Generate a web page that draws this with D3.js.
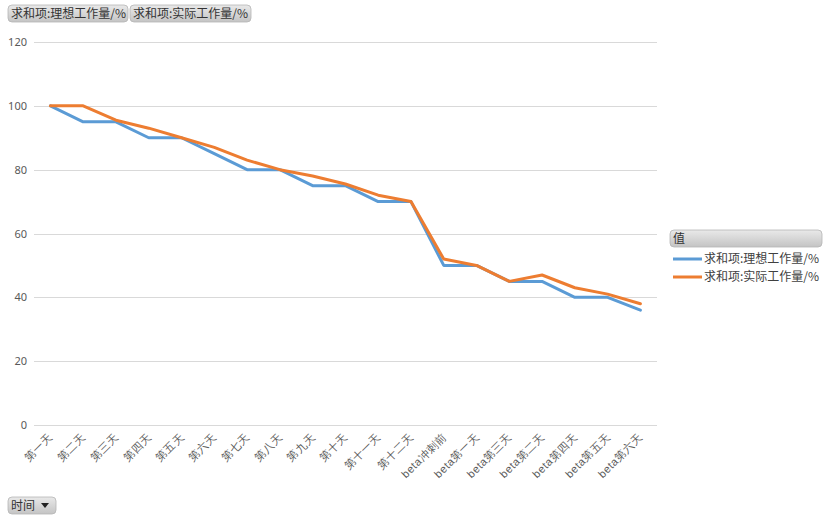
<!DOCTYPE html>
<html><head><meta charset="utf-8">
<script src="https://cdn.jsdelivr.net/npm/d3@7"></script>
<style>
body{margin:0;background:#fff;}
svg{display:block;font-family:"Noto Sans CJK SC","Microsoft YaHei",sans-serif;}
</style></head>
<body><svg id="c" width="829" height="520"></svg>
<script>
const categories = ["第一天","第二天","第三天","第四天","第五天","第六天","第七天","第八天","第九天","第十天","第十一天","第十二天","beta冲刺前","beta第一天","beta第三天","beta第二天","beta第四天","beta第五天","beta第六天"];
const idealValues = [100,95,95,90,90,85,80,80,75,75,70,70,50,50,45,45,40,40,36];
const actualValues = [100,100,95.5,93,90,87,83,80,78,75.5,72,70,52,50,45,47,43,41,38];
const seriesNames = ["求和项:理想工作量/%","求和项:实际工作量/%"];
const seriesColors = ["#5b9bd5","#ed7d31"];
const yTicks = [0,20,40,60,80,100,120];

const svg = d3.select("#c");
const defs = svg.append("defs");
const g1 = defs.append("linearGradient").attr("id","btn").attr("x1",0).attr("y1",0).attr("x2",0).attr("y2",1);
g1.append("stop").attr("offset","0%").attr("stop-color","#e9e9e9");
g1.append("stop").attr("offset","100%").attr("stop-color","#c4c4c4");

const x = d3.scalePoint().domain(categories).range([50.4, 640.4]);
const y = d3.scaleLinear().domain([0,120]).range([425,42]);

// gridlines
svg.append("g").selectAll("line").data(yTicks).join("line")
  .attr("x1",34).attr("x2",657).attr("y1",d=>Math.round(y(d))+0.5).attr("y2",d=>Math.round(y(d))+0.5)
  .attr("stroke","#d9d9d9").attr("stroke-width",1);

// y labels
const yAxis = d3.axisLeft(y).tickValues(yTicks).tickSize(0).tickPadding(0);
const ya = svg.append("g").attr("transform","translate(27,0)").call(yAxis);
ya.select(".domain").remove();
ya.selectAll("text").attr("fill","#595959").style("font-size","11px").style("font-family","'Noto Sans','Segoe UI',sans-serif");

// x labels
const xAxis = d3.axisBottom(x).tickSize(0).tickPadding(0);
const xa = svg.append("g").attr("transform","translate(0,430)").call(xAxis);
xa.select(".domain").remove();
xa.selectAll("text").attr("fill","#595959").style("font-size","11px")
  .attr("text-anchor","end").attr("dy","0.35em").style("letter-spacing","0.5px")
  .attr("transform","translate(0,5) rotate(-45)");

// lines
const line = d3.line().x((d,i)=>x(categories[i])).y(d=>y(d));
[idealValues, actualValues].forEach((vals,k)=>{
  svg.append("path").datum(vals).attr("d",line).attr("fill","none")
    .attr("stroke",seriesColors[k]).attr("stroke-width",3).attr("stroke-linejoin","round").attr("stroke-linecap","round");
});

// buttons
function button(xp,yp,w,h,label){
  const gb = svg.append("g");
  gb.append("rect").attr("x",xp).attr("y",yp).attr("width",w).attr("height",h).attr("rx",4)
    .attr("fill","url(#btn)").attr("stroke","#b5b5b5").attr("stroke-width",0.8);
  gb.append("text").attr("x",xp+3).attr("y",yp+h/2).attr("dy","0.36em").attr("fill","#333")
    .style("font-size","12px").text(label);
  return gb;
}
button(8,5,120,17,seriesNames[0]);
button(130,5,121,17,seriesNames[1]);
const tb = button(8,497,48,17,"时间");
tb.append("path").attr("d","M41,503 L49,503 L45,508 Z").attr("fill","#222");

// legend
const lg = svg.append("g");
lg.append("rect").attr("x",670).attr("y",230).attr("width",152).attr("height",17).attr("rx",4)
  .attr("fill","url(#btn)").attr("stroke","#b5b5b5").attr("stroke-width",0.8);
lg.append("text").attr("x",673).attr("y",238.5).attr("dy","0.36em").attr("fill","#333").style("font-size","12px").text("值");
seriesNames.forEach((n,i)=>{
  const yy = 259 + i*18;
  lg.append("line").attr("x1",673).attr("x2",702).attr("y1",yy).attr("y2",yy).attr("stroke",seriesColors[i]).attr("stroke-width",3);
  lg.append("text").attr("x",704).attr("y",yy).attr("dy","0.36em").attr("fill","#404040").style("font-size","12px").text(n);
});
</script></body></html>
